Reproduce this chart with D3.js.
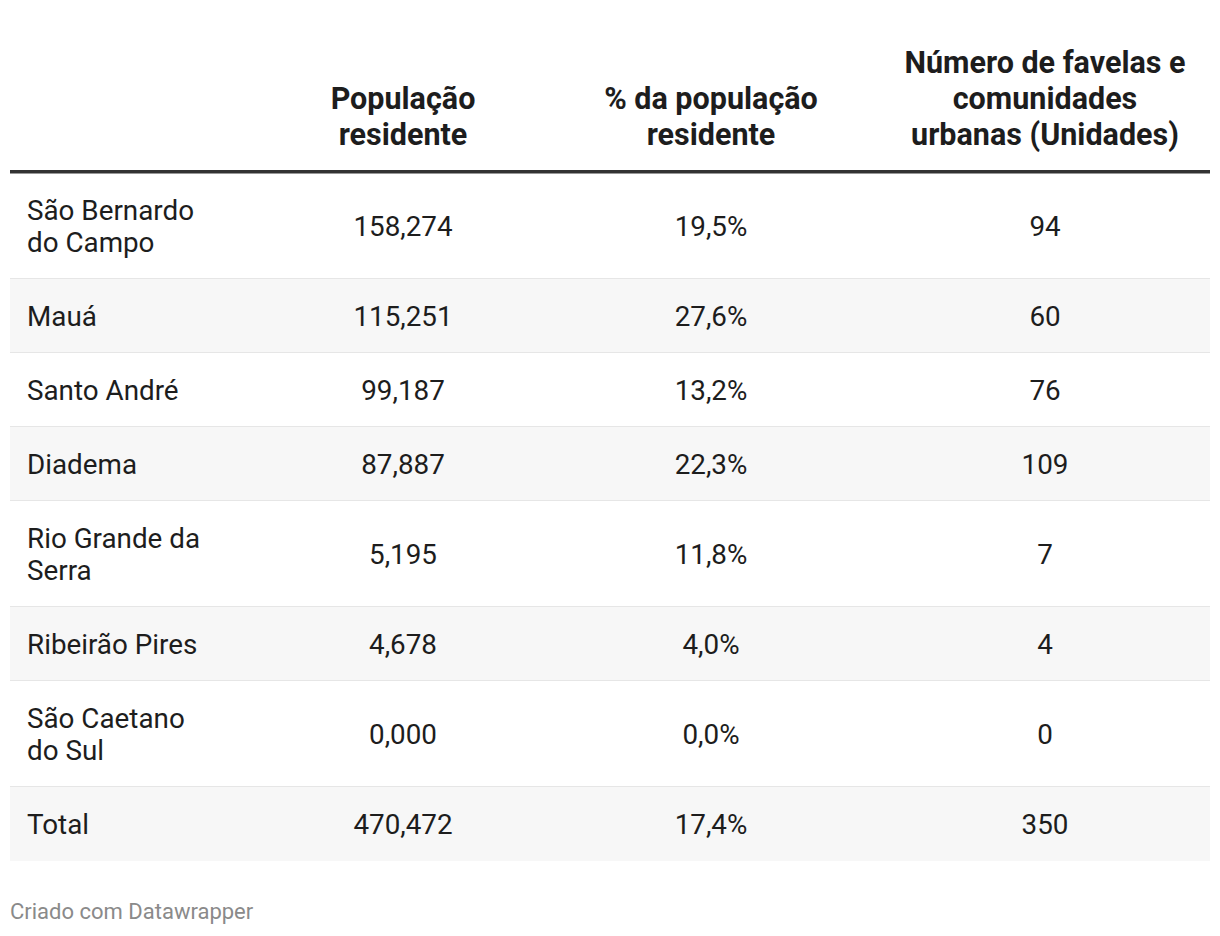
<!DOCTYPE html>
<html>
<head>
<meta charset="utf-8">
<script src="https://cdn.jsdelivr.net/npm/d3@7"></script>
<style>
  html, body { margin: 0; padding: 0; background: #fff; }
  svg { display: block; font-family: Roboto, "Noto Sans", sans-serif; }
</style>
</head>
<body>
<svg id="chart" width="1220" height="936"></svg>
<script>
// ---- data ----
const headers = [
  "",
  "População residente",
  "% da população residente",
  "Número de favelas e comunidades urbanas (Unidades)"
];
const headerLines = [
  [],
  ["População", "residente"],
  ["% da população", "residente"],
  ["Número de favelas e", "comunidades", "urbanas (Unidades)"]
];
const municipios = [
  "São Bernardo do Campo",
  "Mauá",
  "Santo André",
  "Diadema",
  "Rio Grande da Serra",
  "Ribeirão Pires",
  "São Caetano do Sul",
  "Total"
];
const populacao = ["158,274", "115,251", "99,187", "87,887", "5,195", "4,678", "0,000", "470,472"];
const percentual = ["19,5%", "27,6%", "13,2%", "22,3%", "11,8%", "4,0%", "0,0%", "17,4%"];
const favelas = ["94", "60", "76", "109", "7", "4", "0", "350"];
const footer = "Criado com Datawrapper";

// ---- layout ----
const svg = d3.select("#chart");
const left = 10, right = 1210;
const fontSize = 27.8, headFont = 30.5, lineH = 32, headLineH = 36;
const textColor = "#1d1d1d";

const colKeys = ["nome", "pop", "pct", "fav"];
const colX = d3.scaleOrdinal().domain(colKeys).range([27, 403, 711, 1045]);
const colAnchor = d3.scaleOrdinal().domain(colKeys).range(["start", "middle", "middle", "middle"]);

// measure text width for wrapping
const meas = svg.append("text").attr("font-size", fontSize).attr("x", -1000).attr("y", -1000);
function wrap(str, maxW) {
  const words = str.split(" ");
  const lines = [];
  let cur = "";
  words.forEach(w => {
    const test = cur ? cur + " " + w : w;
    meas.text(test);
    if (meas.node().getComputedTextLength() > maxW && cur) {
      lines.push(cur);
      cur = w;
    } else cur = test;
  });
  if (cur) lines.push(cur);
  return lines;
}
const nameLines = municipios.map(n => wrap(n, 185));
meas.remove();

const rows = municipios.map((m, i) => ({
  nome: nameLines[i],
  pop: populacao[i],
  pct: percentual[i],
  fav: favelas[i],
  lines: nameLines[i].length,
  i
}));

const tableTop = 173;
const rowHeights = rows.map(r => 42 + lineH * r.lines);
const rowTops = [];
rowHeights.reduce((acc, h, i) => { rowTops[i] = acc; return acc + h; }, tableTop);
const y = d3.scaleOrdinal().domain(d3.range(rows.length)).range(rowTops);

// ---- header ----
const headBaseline = 145;
const hg = svg.append("g");
headerLines.forEach((ls, c) => {
  if (!ls.length) return;
  const t = hg.append("text")
    .attr("text-anchor", "middle")
    .attr("font-size", headFont)
    .attr("font-weight", 700)
    .attr("fill", "#1d1d1d");
  ls.forEach((l, k) => {
    t.append("tspan")
      .attr("x", colX(colKeys[c]))
      .attr("y", headBaseline - (ls.length - 1 - k) * headLineH)
      .text(l);
  });
});

// ---- rows ----
const rg = svg.selectAll("g.row").data(rows).join("g").attr("class", "row")
  .attr("transform", d => `translate(0,${y(d.i)})`);

rg.append("rect")
  .attr("x", left).attr("y", 0)
  .attr("width", right - left)
  .attr("height", d => rowHeights[d.i])
  .attr("fill", d => d.i % 2 === 1 ? "#f7f7f7" : "#ffffff");

rg.filter(d => d.i < rows.length - 1).append("rect")
  .attr("x", left).attr("y", d => rowHeights[d.i] - 1)
  .attr("width", right - left).attr("height", 2)
  .attr("fill", "#e6e6e6");

colKeys.forEach(k => {
  const t = rg.append("text")
    .attr("text-anchor", colAnchor(k))
    .attr("font-size", fontSize)
    .attr("fill", textColor);
  if (k === "nome") {
    t.each(function(d) {
      const mid = rowHeights[d.i] / 2 + 10;
      const n = d.nome.length;
      d3.select(this).selectAll("tspan").data(d.nome).join("tspan")
        .attr("x", colX(k))
        .attr("y", (l, j) => mid + (j - (n - 1) / 2) * lineH)
        .text(l => l);
    });
  } else {
    t.attr("x", colX(k))
      .attr("y", d => rowHeights[d.i] / 2 + 10)
      .text(d => d[k]);
  }
});

// thick header rule
svg.append("rect")
  .attr("x", left).attr("y", 170)
  .attr("width", right - left).attr("height", 3.5)
  .attr("fill", "#333333");

// ---- footer ----
svg.append("text")
  .attr("x", 10).attr("y", 919)
  .attr("font-size", 22)
  .attr("fill", "#8a8a8a")
  .text(footer);
</script>
</body>
</html>
